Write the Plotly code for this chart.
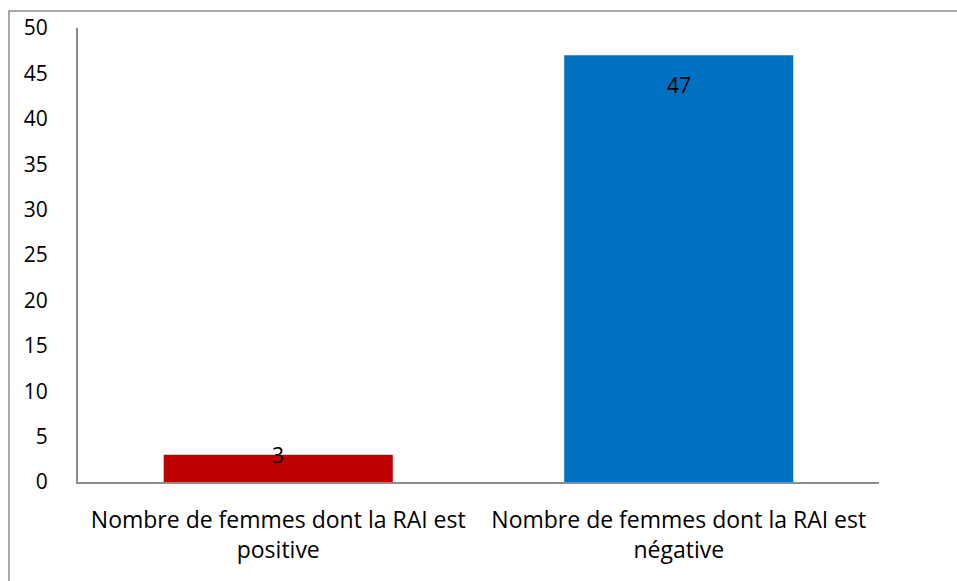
import plotly.graph_objects as go

categories = ["Nombre de femmes dont la RAI est<br>positive",
              "Nombre de femmes dont la RAI est<br>négative"]
values = [3, 47]
colors = ["#C00000", "#0070C0"]
y_ticks = [0, 5, 10, 15, 20, 25, 30, 35, 40, 45, 50]

FONT = "Open Sans"
FS = 21
FS_X = 23
W, H = 957, 581
L, R, T, B = 78, 78, 28, 99

fig = go.Figure(go.Bar(x=categories, y=values, marker_color=colors,
                       marker_line_width=0, width=0.572))

# value labels: 47 sits inside the top of its bar, 3 straddles the short bar's top
fig.add_annotation(x=categories[1], y=values[1], text=str(values[1]),
                   showarrow=False, yanchor="middle", yshift=-30,
                   font=dict(family=FONT, size=FS, color="black"))
fig.add_annotation(x=categories[0], y=values[0], text=str(values[0]),
                   showarrow=False, yanchor="middle", yshift=0,
                   font=dict(family=FONT, size=FS, color="black"))

# chart-area border
pw, ph = W - L - R, H - T - B
fig.add_shape(type="rect", xref="paper", yref="paper",
              x0=(9 - L) / pw, x1=1.2, y0=-0.5, y1=1 + (T - 11) / ph,
              line=dict(color="#8C8C8C", width=1.5), fillcolor="rgba(0,0,0,0)")

fig.update_layout(
    width=W, height=H,
    margin=dict(l=L, r=R, t=T, b=B, autoexpand=False),
    paper_bgcolor="white", plot_bgcolor="white",
    showlegend=False,
    font=dict(family=FONT, size=FS, color="black"),
    xaxis=dict(showline=True, linecolor="#8C8C8C", linewidth=2,
               ticks="", showgrid=False, ticklabelstandoff=16,
               tickfont=dict(size=FS_X)),
    yaxis=dict(range=[0, 50], tickvals=y_ticks, showline=True,
               linecolor="#8C8C8C", linewidth=2, ticks="", showgrid=False,
               zeroline=False, ticklabelstandoff=24, tickfont=dict(size=FS)),
)

fig.write_html("out.html")
